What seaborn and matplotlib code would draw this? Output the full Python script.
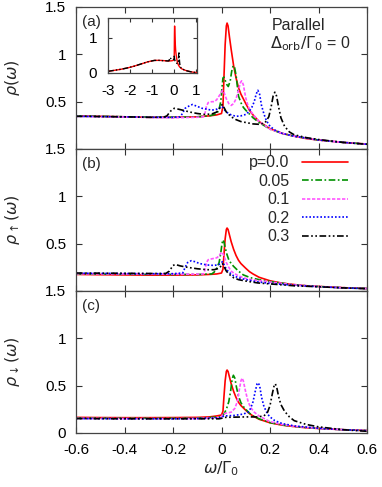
import numpy as np
import pandas as pd
import matplotlib
matplotlib.use("Agg")
import matplotlib.pyplot as plt
import seaborn as sns

# ---------------- data ----------------
p_labels = ["p=0.0", "0.05", "0.1", "0.2", "0.3"]
colors = ["#ff0000", "#009000", "#ff55ff", "#0000ff", "#000000"]

# p = 0.0
w_p00 = [-0.6, -0.5, -0.4, -0.3, -0.2, -0.1, -0.05, -0.02, 0.0, 0.006, 0.01, 0.015, 0.02, 0.023, 0.027,
         0.033, 0.04, 0.05, 0.06, 0.07, 0.08, 0.1, 0.115, 0.13, 0.155, 0.2, 0.25, 0.3, 0.35, 0.4, 0.5, 0.6]
tot_p00 = [0.35, 0.345, 0.34, 0.335, 0.335, 0.34, 0.35, 0.36, 0.375, 0.45, 0.75, 1.1, 1.3, 1.33, 1.3,
           1.18, 1.05, 0.88, 0.75, 0.65, 0.58, 0.48, 0.41, 0.36, 0.29, 0.215, 0.165, 0.135, 0.11, 0.095, 0.07, 0.052]
up_p00 = [0.175, 0.172, 0.17, 0.168, 0.168, 0.17, 0.175, 0.18, 0.19, 0.23, 0.38, 0.55, 0.65, 0.665, 0.65,
          0.59, 0.52, 0.44, 0.375, 0.325, 0.29, 0.24, 0.205, 0.18, 0.145, 0.108, 0.083, 0.068, 0.055, 0.048, 0.035, 0.026]
dn_p00 = [0.165, 0.163, 0.162, 0.162, 0.163, 0.165, 0.17, 0.18, 0.19, 0.23, 0.38, 0.55, 0.65, 0.665, 0.65,
          0.59, 0.52, 0.44, 0.375, 0.325, 0.29, 0.24, 0.205, 0.18, 0.145, 0.108, 0.083, 0.068, 0.055, 0.048, 0.035, 0.026]

# p = 0.05
w_p05_tot = [-0.6, -0.4, -0.2, -0.1, -0.05, -0.02, -0.01, -0.003, 0.002, 0.006, 0.01, 0.016, 0.022, 0.028,
             0.036, 0.042, 0.048, 0.054, 0.06, 0.07, 0.08, 0.09, 0.1, 0.115, 0.13, 0.155, 0.2, 0.25, 0.3,
             0.4, 0.5, 0.6]
tot_p05 = [0.35, 0.34, 0.335, 0.34, 0.35, 0.37, 0.42, 0.5, 0.65, 0.75, 0.76, 0.72, 0.68, 0.66,
           0.72, 0.82, 0.88, 0.86, 0.78, 0.56, 0.49, 0.44, 0.41, 0.37, 0.33, 0.28, 0.21, 0.165, 0.135,
           0.095, 0.07, 0.052]
w_p05_up = [-0.6, -0.4, -0.2, -0.1, -0.04, -0.03, -0.02, -0.01, -0.003, 0.002, 0.006, 0.01, 0.016, 0.022,
            0.03, 0.04, 0.05, 0.07, 0.09, 0.12, 0.155, 0.2, 0.3, 0.4, 0.5, 0.6]
up_p05 = [0.18, 0.177, 0.175, 0.175, 0.18, 0.2, 0.24, 0.3, 0.4, 0.5, 0.54, 0.52, 0.45, 0.39,
          0.33, 0.29, 0.26, 0.21, 0.17, 0.14, 0.12, 0.1, 0.065, 0.047, 0.035, 0.026]
w_p05_dn = [-0.6, -0.4, -0.2, -0.1, 0.0, 0.01, 0.02, 0.03, 0.038, 0.044, 0.049, 0.055, 0.062, 0.07, 0.08,
            0.09, 0.1, 0.115, 0.13, 0.155, 0.2, 0.25, 0.3, 0.4, 0.5, 0.6]
dn_p05 = [0.158, 0.156, 0.155, 0.157, 0.17, 0.2, 0.25, 0.33, 0.45, 0.57, 0.61, 0.58, 0.48, 0.39, 0.32,
          0.28, 0.25, 0.21, 0.18, 0.15, 0.11, 0.085, 0.068, 0.048, 0.035, 0.025]

# p = 0.1
w_p10_tot = [-0.6, -0.4, -0.2, -0.1, -0.075, -0.068, -0.062, -0.055, -0.04, -0.03, -0.02, -0.01, 0.0, 0.004,
             0.01, 0.02, 0.03, 0.04, 0.05, 0.06, 0.07, 0.078, 0.083, 0.09, 0.1, 0.11, 0.12, 0.135, 0.155,
             0.2, 0.25, 0.3, 0.4, 0.5, 0.6]
tot_p10 = [0.345, 0.338, 0.33, 0.335, 0.34, 0.38, 0.45, 0.49, 0.5, 0.5, 0.52, 0.56, 0.6, 0.62,
           0.6, 0.53, 0.48, 0.46, 0.48, 0.53, 0.62, 0.7, 0.72, 0.68, 0.54, 0.45, 0.4, 0.35, 0.29,
           0.21, 0.165, 0.135, 0.095, 0.07, 0.052]
w_p10_up = [-0.6, -0.4, -0.2, -0.1, -0.075, -0.068, -0.062, -0.055, -0.04, -0.03, -0.02, -0.01, -0.003,
            0.003, 0.01, 0.02, 0.03, 0.04, 0.05, 0.07, 0.09, 0.12, 0.155, 0.2, 0.3, 0.4, 0.5, 0.6]
up_p10 = [0.182, 0.18, 0.178, 0.178, 0.18, 0.22, 0.3, 0.33, 0.34, 0.345, 0.35, 0.37, 0.4,
          0.41, 0.37, 0.3, 0.25, 0.21, 0.19, 0.16, 0.14, 0.12, 0.11, 0.095, 0.065, 0.047, 0.035, 0.026]
w_p10_dn = [-0.6, -0.4, -0.2, -0.1, -0.01, 0.0, 0.005, 0.02, 0.04, 0.055, 0.065, 0.073, 0.08, 0.085, 0.09,
            0.1, 0.11, 0.12, 0.135, 0.155, 0.2, 0.25, 0.3, 0.4, 0.5, 0.6]
dn_p10 = [0.155, 0.153, 0.152, 0.153, 0.16, 0.17, 0.2, 0.21, 0.22, 0.26, 0.33, 0.45, 0.55, 0.58, 0.55,
          0.43, 0.33, 0.27, 0.22, 0.18, 0.12, 0.09, 0.07, 0.048, 0.035, 0.025]

# p = 0.2
w_p20_tot = [-0.6, -0.4, -0.3, -0.2, -0.17, -0.16, -0.15, -0.13, -0.12, -0.1, -0.08, -0.06, -0.04, -0.02,
             -0.005, 0.003, 0.01, 0.02, 0.04, 0.06, 0.08, 0.1, 0.115, 0.125, 0.135, 0.143, 0.15, 0.157,
             0.165, 0.175, 0.185, 0.2, 0.22, 0.25, 0.3, 0.4, 0.5, 0.6]
tot_p20 = [0.345, 0.34, 0.335, 0.335, 0.34, 0.38, 0.43, 0.46, 0.47, 0.45, 0.43, 0.42, 0.41, 0.42,
           0.44, 0.45, 0.42, 0.39, 0.36, 0.345, 0.35, 0.365, 0.4, 0.44, 0.5, 0.58, 0.62, 0.58,
           0.46, 0.37, 0.3, 0.24, 0.2, 0.165, 0.135, 0.095, 0.07, 0.05]
w_p20_up = [-0.6, -0.4, -0.3, -0.2, -0.16, -0.15, -0.14, -0.125, -0.11, -0.09, -0.06, -0.03, -0.01, 0.0,
            0.004, 0.01, 0.02, 0.03, 0.05, 0.07, 0.1, 0.14, 0.2, 0.3, 0.4, 0.5, 0.6]
up_p20 = [0.188, 0.185, 0.183, 0.183, 0.19, 0.25, 0.3, 0.32, 0.31, 0.29, 0.275, 0.27, 0.28, 0.3,
          0.31, 0.28, 0.23, 0.2, 0.16, 0.14, 0.12, 0.1, 0.08, 0.06, 0.045, 0.033, 0.025]
w_p20_dn = [-0.6, -0.4, -0.2, -0.1, -0.01, 0.0, 0.01, 0.05, 0.09, 0.11, 0.12, 0.13, 0.14, 0.147, 0.152,
            0.158, 0.165, 0.175, 0.19, 0.2, 0.22, 0.25, 0.3, 0.4, 0.5, 0.6]
dn_p20 = [0.152, 0.15, 0.15, 0.152, 0.16, 0.165, 0.18, 0.185, 0.2, 0.22, 0.26, 0.33, 0.45, 0.52, 0.53,
          0.49, 0.38, 0.28, 0.2, 0.17, 0.13, 0.1, 0.075, 0.05, 0.035, 0.025]

# p = 0.3
w_p30_tot = [-0.6, -0.4, -0.3, -0.24, -0.225, -0.21, -0.195, -0.185, -0.16, -0.13, -0.1, -0.07, -0.04,
             -0.02, -0.005, 0.003, 0.01, 0.02, 0.04, 0.06, 0.08, 0.1, 0.13, 0.16, 0.18, 0.195, 0.205,
             0.213, 0.22, 0.227, 0.235, 0.245, 0.26, 0.28, 0.3, 0.35, 0.4, 0.5, 0.6]
tot_p30 = [0.345, 0.34, 0.335, 0.335, 0.35, 0.4, 0.43, 0.425, 0.41, 0.39, 0.375, 0.365, 0.37,
           0.39, 0.44, 0.47, 0.44, 0.39, 0.34, 0.31, 0.29, 0.28, 0.265, 0.26, 0.28, 0.34, 0.45,
           0.56, 0.6, 0.56, 0.45, 0.33, 0.24, 0.18, 0.15, 0.12, 0.1, 0.07, 0.05]
w_p30_up = [-0.6, -0.4, -0.3, -0.23, -0.215, -0.2, -0.19, -0.17, -0.14, -0.1, -0.06, -0.03, -0.01, 0.0,
            0.004, 0.01, 0.02, 0.03, 0.05, 0.07, 0.1, 0.15, 0.2, 0.3, 0.4, 0.5, 0.6]
up_p30 = [0.19, 0.187, 0.185, 0.185, 0.21, 0.27, 0.28, 0.265, 0.25, 0.235, 0.225, 0.225, 0.24, 0.27,
          0.29, 0.26, 0.21, 0.18, 0.14, 0.12, 0.105, 0.085, 0.075, 0.055, 0.045, 0.033, 0.025]
w_p30_dn = [-0.6, -0.4, -0.2, -0.1, -0.01, 0.0, 0.01, 0.1, 0.15, 0.175, 0.19, 0.2, 0.21, 0.217, 0.222,
            0.228, 0.235, 0.245, 0.26, 0.28, 0.3, 0.35, 0.4, 0.5, 0.6]
dn_p30 = [0.152, 0.15, 0.15, 0.15, 0.15, 0.155, 0.165, 0.17, 0.17, 0.18, 0.22, 0.29, 0.42, 0.5, 0.52,
          0.48, 0.39, 0.3, 0.23, 0.17, 0.13, 0.09, 0.065, 0.035, 0.018]

# inset: wide-range total DOS (tails outside the main window)
inset_w_left = [-3.0, -2.7, -2.4, -2.1, -1.8, -1.5, -1.2, -0.9, -0.7]
inset_rho_left = [0.04, 0.07, 0.1, 0.14, 0.19, 0.25, 0.31, 0.35, 0.352]
inset_w_right = [0.7, 0.8, 0.9, 1.0, 1.05]
inset_rho_right = [0.035, 0.022, 0.012, 0.005, 0.003]

styles = ["-", (0, (4, 1.5, 1, 1.5)), (0, (2, 1)), (0, (1, 1.2)), (0, (4, 1.5, 1, 1.5, 1, 1.5))]

panels = [
    [(w_p00, tot_p00), (w_p05_tot, tot_p05), (w_p10_tot, tot_p10), (w_p20_tot, tot_p20), (w_p30_tot, tot_p30)],
    [(w_p00, up_p00), (w_p05_up, up_p05), (w_p10_up, up_p10), (w_p20_up, up_p20), (w_p30_up, up_p30)],
    [(w_p00, dn_p00), (w_p05_dn, dn_p05), (w_p10_dn, dn_p10), (w_p20_dn, dn_p20), (w_p30_dn, dn_p30)],
]

# ---------------- style ----------------
sns.set_style("ticks")
plt.rcParams['font.family'] = ['Liberation Sans', 'DejaVu Sans']
plt.rcParams['mathtext.fontset'] = 'dejavusans'
FS = 11

W, H = 382, 487
fig = plt.figure(figsize=(W / 100, H / 100), dpi=100)

left, right = 76 / W, 367 / W
tops = [7, 149, 291]
ph = 142
axes = []
for t in tops:
    ax = fig.add_axes([left, 1 - (t + ph) / H, right - left, ph / H])
    axes.append(ax)

ylabels = [r'$\rho(\omega)$', r'$\rho_{\uparrow}(\omega)$', r'$\rho_{\downarrow}(\omega)$']
tags = ["(a)", "(b)", "(c)"]
for i, ax in enumerate(axes):
    for j, (w, r) in enumerate(panels[i]):
        df = pd.DataFrame({"w": w, "r": r})
        sns.lineplot(data=df, x="w", y="r", ax=ax, color=colors[j], linestyle=styles[j],
                     linewidth=1.2, estimator=None, sort=False, legend=False)
    ax.set_xlim(-0.6, 0.6)
    ax.set_ylim(0, 1.5)
    ax.set_xticks([-0.6, -0.4, -0.2, 0, 0.2, 0.4, 0.6])
    ax.set_yticks([0, 0.5, 1, 1.5])
    if i < 2:
        ax.set_yticklabels(["", "0.5", "1", "1.5"])
        ax.set_xticklabels([])
        ax.set_xlabel("")
    else:
        ax.set_yticklabels(["0", "0.5", "1", "1.5"])
        ax.set_xticklabels(["-0.6", "-0.4", "-0.2", "0", "0.2", "0.4", "0.6"])
        ax.set_xlabel(r'$\omega/\mathit{\Gamma}_{\mathit{0}}$', fontsize=FS + 0.5, labelpad=2)
    ax.tick_params(direction='in', length=4, width=0.8, top=True, right=True,
                   labelsize=FS, pad=7, colors='#333333', labelcolor='black')
    for s in ax.spines.values():
        s.set_linewidth(0.9)
        s.set_color('#444444')
        s.set_visible(True)
    ax.set_ylabel(ylabels[i], fontsize=FS + 0.5)
    ax.yaxis.set_label_coords(-0.185, 0.5)
    ax.text(0.02, 0.895, tags[i], transform=ax.transAxes, ha='left', va='center', fontsize=FS)

# annotation in (a)
axes[0].text(0.672, 0.868, "Parallel", transform=axes[0].transAxes, ha='left', va='center', fontsize=FS + 0.5)
axes[0].text(0.668, 0.745, r'$\mathit{\Delta}_{\mathrm{orb}}/\mathit{\Gamma}_{\mathit{0}}$ = 0',
             transform=axes[0].transAxes, ha='left', va='center', fontsize=FS + 0.5)

# legend in (b)
handles = []
for j in range(5):
    h, = axes[1].plot([], [], color=colors[j], linestyle=styles[j], linewidth=1.2)
    handles.append(h)
leg = axes[1].legend(handles, p_labels, loc='upper right', bbox_to_anchor=(0.935, 0.955),
                     frameon=False, markerfirst=False, handlelength=2.9, handletextpad=0.75,
                     labelspacing=0.22, borderpad=0, borderaxespad=0, fontsize=FS + 0.5)

# inset in (a)
ins = fig.add_axes([108.3 / W, 1 - 72.7 / H, (196.7 - 108.3) / W, (72.7 - 18.3) / H])
for j in [0, 4]:
    w, r = panels[0][j]
    df = pd.DataFrame({"w": inset_w_left + list(w) + inset_w_right,
                       "r": inset_rho_left + list(r) + inset_rho_right})
    sns.lineplot(data=df, x="w", y="r", ax=ins, color=colors[j], linestyle=styles[j],
                 linewidth=1.0, estimator=None, sort=False, legend=False)
ins.set_xlim(-3.0, 1.03)
ins.set_ylim(0, 1.55)
ins.set_xticks([-3, -2, -1, 0, 1])
ins.set_xticklabels(["-3", "-2", "-1", "0", "1"])
ins.set_yticks([0, 1])
ins.set_yticklabels(["0", "1"])
ins.set_xlabel("")
ins.set_ylabel("")
ins.tick_params(direction='in', length=3, width=0.8, top=True, right=True, labelsize=FS, pad=8,
                colors='#333333', labelcolor='black')
for s in ins.spines.values():
    s.set_linewidth(0.9)
    s.set_color('#444444')
    s.set_visible(True)

# right-align the legend labels (gnuplot style)
fig.canvas.draw()
rend = fig.canvas.get_renderer()
texts = leg.get_texts()
rights = [t.get_window_extent(rend).x1 for t in texts]
mr = max(rights)
for t, rr in zip(texts, rights):
    t.set_position((mr - rr, 0))

fig.savefig("out.png", dpi=100)
